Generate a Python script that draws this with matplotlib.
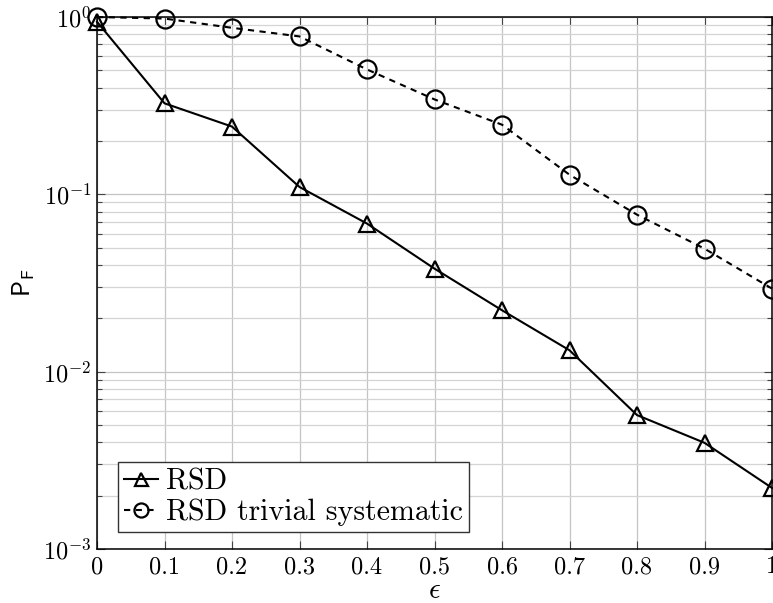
import matplotlib
matplotlib.use("Agg")
import matplotlib.pyplot as plt
import numpy as np
from matplotlib.ticker import LogLocator, NullFormatter

plt.rcParams['font.family'] = 'serif'
plt.rcParams['font.serif'] = ['cmr10']
plt.rcParams['mathtext.fontset'] = 'cm'
plt.rcParams['axes.formatter.use_mathtext'] = True
plt.rcParams['axes.unicode_minus'] = False

eps = [0.0, 0.1, 0.2, 0.3, 0.4, 0.5, 0.6, 0.7, 0.8, 0.9, 1.0]
rsd = [0.94, 0.326, 0.241, 0.110, 0.0684, 0.0381, 0.0222, 0.0132, 0.00569, 0.00397, 0.00221]
rsd_trivial = [1.0, 0.98, 0.869, 0.777, 0.506, 0.343, 0.247, 0.129, 0.0768, 0.0494, 0.0294]
xticks = [0, 0.1, 0.2, 0.3, 0.4, 0.5, 0.6, 0.7, 0.8, 0.9, 1]
xticklabels = ['0', '0.1', '0.2', '0.3', '0.4', '0.5', '0.6', '0.7', '0.8', '0.9', '1']

fig = plt.figure(figsize=(7.73, 6.03), dpi=100)
ax = fig.add_axes([97/773, 1-549/603, (772-97)/773, (549-17)/603])

ax.plot(eps, rsd, '-', color='black', lw=1.5, marker='^', ms=12,
        mfc='none', mec='black', mew=1.6, clip_on=False, zorder=3, label='RSD')
ax.plot(eps, rsd_trivial, color='black', lw=1.5, ls=(0, (3, 2.6)), marker='o', ms=13,
        mfc='none', mec='black', mew=1.6, clip_on=False, zorder=3,
        label='RSD trivial systematic')

ax.set_yscale('log')
ax.set_xlim(0, 1)
ax.set_ylim(1e-3, 1)
ax.set_xticks(xticks)
ax.set_xticklabels(xticklabels)
ax.yaxis.set_major_locator(LogLocator(base=10, numticks=10))
ax.yaxis.set_minor_locator(LogLocator(base=10, subs=np.arange(2, 10), numticks=100))
ax.yaxis.set_minor_formatter(NullFormatter())

ax.grid(True, which='major', color='#c4c4c4', lw=0.9)
ax.grid(True, which='minor', axis='y', color='#d4d4d4', lw=0.9)
ax.set_axisbelow(True)

ax.tick_params(which='both', direction='in', top=True, right=True, labelsize=17.5, color='#444444')
ax.tick_params(which='major', length=6, width=0.8, pad=5)
ax.tick_params(which='minor', length=3.5, width=0.8)
ax.tick_params(axis='y', which='major', pad=4)
for s in ax.spines.values():
    s.set_linewidth(1.1)

ax.set_xlabel(r'$\epsilon$', fontsize=21, labelpad=0)
ax.set_ylabel(r'$\mathsf{P}_\mathsf{F}$', fontsize=18, labelpad=4)

leg = ax.legend(loc='lower left', bbox_to_anchor=(0.031, 0.032), fontsize=21.5,
                fancybox=False, framealpha=1, edgecolor='#333333', markerscale=0.78,
                handlelength=1.15, handletextpad=0.25, borderpad=0.2, labelspacing=0.1,
                borderaxespad=0)
leg.get_frame().set_linewidth(1.0)

fig.savefig('out.png', dpi=100)
